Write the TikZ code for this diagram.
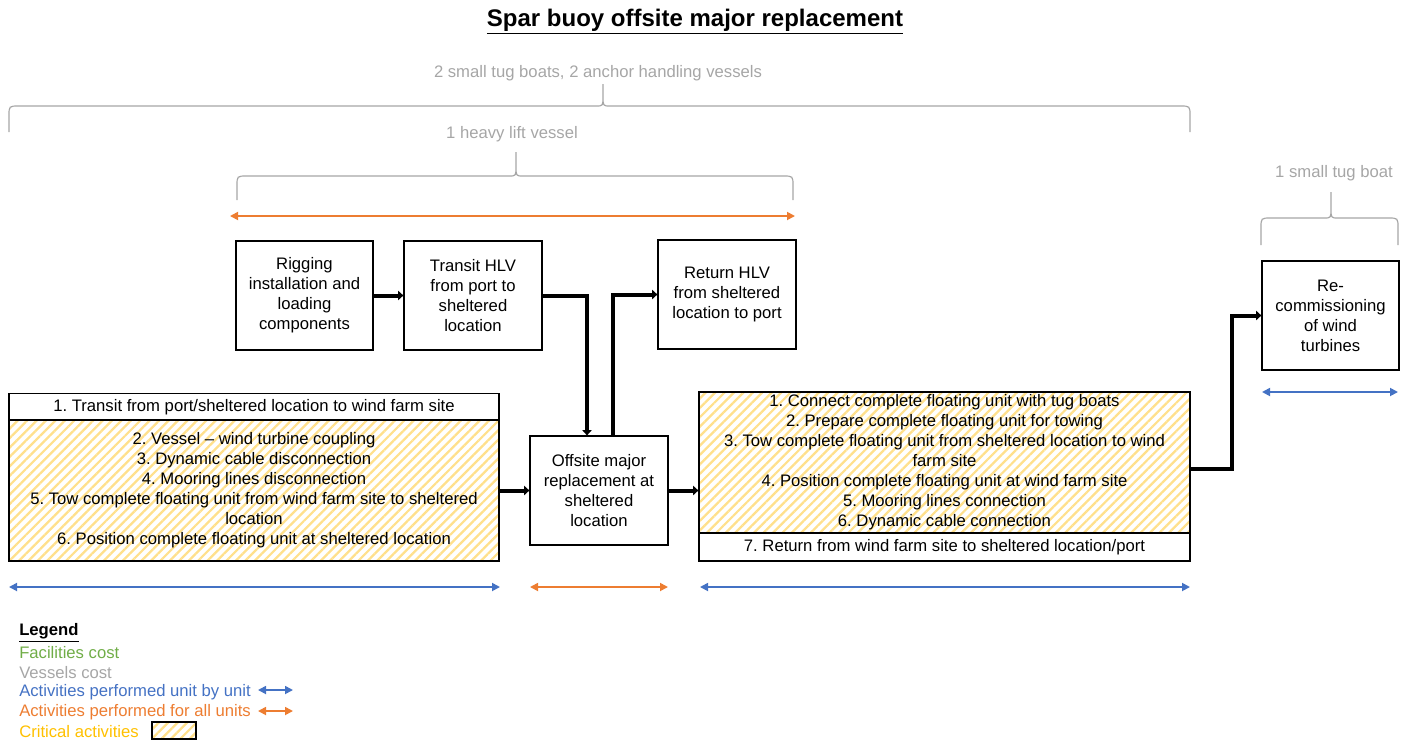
\documentclass[tikz,border=0pt]{standalone}
\usepackage{fontspec}
\setmainfont{Liberation Sans}
\usetikzlibrary{arrows.meta,patterns.meta,calc}
\frenchspacing
\definecolor{vgray}{HTML}{A6A6A6}
\definecolor{fgreen}{HTML}{70AD47}
\definecolor{ublue}{HTML}{4472C4}
\definecolor{aorange}{HTML}{ED7D31}
\definecolor{cyellow}{HTML}{FFC000}
\definecolor{hatch}{HTML}{FFE08C}
\tikzset{
  box/.style={draw=black,line width=0.9pt,fill=white,align=center,inner sep=0pt,
    font=\fontsize{12.5}{15}\selectfont},
  crit/.style={box,pattern={Lines[angle=45,distance=5pt,line width=1.7pt]},pattern color=hatch},
  flow/.style={line width=3pt,-{Triangle[length=4pt,width=7pt]}},
  bluearr/.style={ublue,line width=1.3pt,{Triangle[length=6pt,width=6pt]}-{Triangle[length=6pt,width=6pt]}},
  orarr/.style={aorange,line width=1.3pt,{Triangle[length=6pt,width=6pt]}-{Triangle[length=6pt,width=6pt]}},
  bracestyle/.style={vgray,line width=0.9pt},
  vtext/.style={text=vgray,font=\fontsize{12.5}{14}\selectfont,inner sep=0pt},
  legtext/.style={anchor=west,font=\fontsize{12.5}{14}\selectfont,inner sep=0pt}
}
\newcommand\mybrace[6]{%
  \draw[bracestyle] (#1,#5) -- (#1,#4+10) .. controls (#1,#4) .. (#1+10,#4)
    -- (#3-7,#4) .. controls (#3,#4) .. (#3,#4-10) -- (#3,#6)
    (#3,#4-10) .. controls (#3,#4) .. (#3+7,#4)
    -- (#2-10,#4) .. controls (#2,#4) .. (#2,#4+10) -- (#2,#5);}
\begin{document}
\begin{tikzpicture}[x=0.75pt,y=-0.75pt]
\useasboundingbox (0,0) rectangle (1407,740);
% title
\node[inner sep=0pt,font=\fontsize{18}{20}\selectfont\bfseries] (title) at (695,22) {\underline{Spar buoy offsite major replacement}};
% vessel labels and braces
\node[vtext] (v1) at (598,73) {2 small tug boats, 2 anchor handling vessels};
\mybrace{9}{1190}{603}{106}{132}{84}
\node[vtext] (v2) at (512,134) {1 heavy lift vessel};
\mybrace{237}{793}{516}{176}{200}{152}
\node[vtext] (v3) at (1334,173) {1 small tug boat};
\mybrace{1261}{1398}{1331}{218}{245}{192}
% orange top arrow
\coordinate (o1a) at (230,216); \coordinate (o1b) at (795,216);
\draw[orarr] (o1a) -- (o1b);
% boxes
\node[box,minimum width=137*0.75pt,minimum height=109*0.75pt] (rig) at (304.5,295.5) {Rigging\\installation and\\loading\\components};
\node[box,minimum width=138*0.75pt,minimum height=109*0.75pt] (thlv) at (473,295.5) {Transit HLV\\from port to\\sheltered\\location};
\node[box,minimum width=138*0.75pt,minimum height=109*0.75pt] (rhlv) at (727,294.5) {Return HLV\\from sheltered\\location to port};
\node[box,minimum width=490*0.75pt,minimum height=27*0.75pt] (lt) at (254,407) {1. Transit from port/sheltered location to wind farm site};
\node[crit,minimum width=490*0.75pt,minimum height=141*0.75pt] (lh) at (254,490.5) {2. Vessel -- wind turbine coupling\\3. Dynamic cable disconnection\\4. Mooring lines disconnection\\5. Tow complete floating unit from wind farm site to sheltered\\location\\6. Position complete floating unit at sheltered location};
\node[box,minimum width=138*0.75pt,minimum height=109*0.75pt] (off) at (599,490.5) {Offsite major\\replacement at\\sheltered\\location};
\node[crit,minimum width=491*0.75pt,minimum height=141*0.75pt] (rh) at (944.5,462.5) {1. Connect complete floating unit with tug boats\\2. Prepare complete floating unit for towing\\3. Tow complete floating unit from sheltered location to wind\\farm site\\4. Position complete floating unit at wind farm site\\5. Mooring lines connection\\6. Dynamic cable connection};
\node[box,minimum width=491*0.75pt,minimum height=28*0.75pt] (rb) at (944.5,547) {7. Return from wind farm site to sheltered location/port};
\node[box,minimum width=137*0.75pt,minimum height=109*0.75pt] (rec) at (1330.5,315.5) {Re-\\commissioning\\of wind\\turbines};
% flow arrows
\draw[flow] (rig.east) -- (thlv.west);
\draw[flow] (thlv.east) -| ([xshift=-9pt]off.north);
\draw[flow] ([xshift=10.5pt]off.north) |- (rhlv.west);
\draw[flow] (lh.east) -- (off.west);
\draw[flow] (off.east) -- (off.east -| rh.west);
\draw[flow] ([yshift=-5pt]rh.east) -- ++(41,0) |- (rec.west);
% bottom arrows
\coordinate (b1a) at (9,587); \coordinate (b1b) at (500,587);
\draw[bluearr] (b1a) -- (b1b);
\coordinate (o2a) at (530,587); \coordinate (o2b) at (668,587);
\draw[orarr] (o2a) -- (o2b);
\coordinate (b2a) at (700,587); \coordinate (b2b) at (1190,587);
\draw[bluearr] (b2a) -- (b2b);
\coordinate (b3a) at (1262,392); \coordinate (b3b) at (1398,392);
\draw[bluearr] (b3a) -- (b3b);
% legend
\node[legtext,font=\fontsize{12.5}{14}\selectfont\bfseries] (lg) at (19,633) {\underline{Legend}};
\node[legtext,text=fgreen] (lg1) at (19,653) {Facilities cost};
\node[legtext,text=vgray] (lg2) at (19,673) {Vessels cost};
\node[legtext,text=ublue] (lg3) at (19,692) {Activities performed unit by unit};
\node[legtext,text=aorange] (lg4) at (19,712) {Activities performed for all units};
\node[legtext,text=cyellow] (lg5) at (19,732) {Critical activities};
\coordinate (la1) at (258,690); \coordinate (la2) at (293,690);
\draw[bluearr] (la1) -- (la2);
\coordinate (la3) at (258,711); \coordinate (la4) at (293,711);
\draw[orarr] (la3) -- (la4);
\node[crit,minimum width=44*0.75pt,minimum height=17*0.75pt] (lbox) at (174,730.5) {};
\end{tikzpicture}
\end{document}
